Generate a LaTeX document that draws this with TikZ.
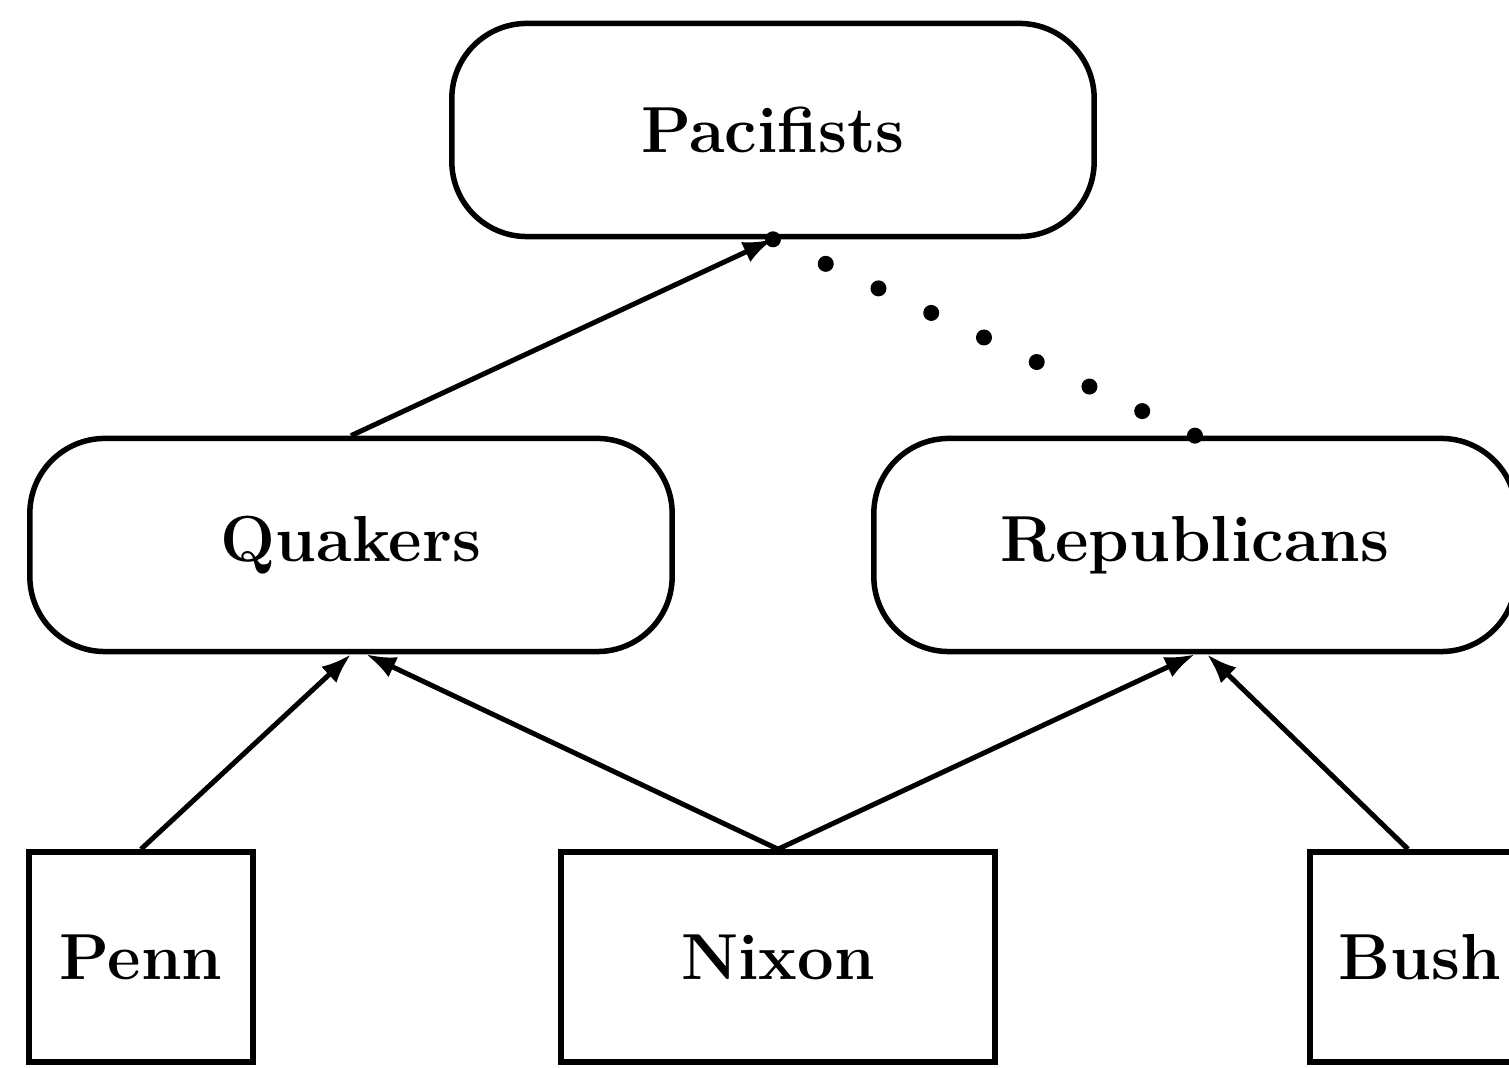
\documentclass[tikz,border=0pt]{standalone}
\usetikzlibrary{arrows.meta,calc,decorations.markings}
\begin{document}
\begin{tikzpicture}[x=0.01cm,y=-0.01cm,
  every node/.style={font=\fontsize{18.5}{22}\selectfont\bfseries, line width=0.055cm, draw, inner sep=0pt},
  classbox/.style={rounded corners=0.75cm, minimum width=6.42cm, minimum height=2.13cm},
  indbox/.style={minimum height=2.1cm},
  isa/.style={line width=0.05cm, -{Latex[length=0.3cm,width=0.22cm]}},
  nota/.style={decoration={markings, mark=between positions 0 and 1 step 0.12499 with {\fill (0,0) circle (0.08cm);}}, decorate}
]
\useasboundingbox (0,0) rectangle (1509,1068);
\clip (0,0) rectangle (1509,1068);
\node[classbox] (pac) at (773,130) {Pacifists};
\node[classbox] (qua) at (351,545) {Quakers};
\node[classbox] (rep) at (1195,545) {Republicans};
\node[indbox, minimum width=2.24cm] (penn) at (141,957) {Penn};
\node[indbox, minimum width=4.34cm] (nix) at (778,957) {Nixon};
\node[indbox, minimum width=2.2cm] (bush) at (1420,957) {Bush\hspace{0.2cm}};
\draw[isa] (qua.north) -- (pac.south);
\path[nota] (pac.south) -- (rep.north);
\draw[isa] (penn.north) -- (qua.south);
\draw[isa] (nix.north) -- ($(qua.south)+(15,0)$);
\draw[isa] (nix.north) -- (rep.south);
\draw[isa] ($(bush.north)+(-12,0)$) -- ($(rep.south)+(12,0)$);
\end{tikzpicture}
\end{document}
